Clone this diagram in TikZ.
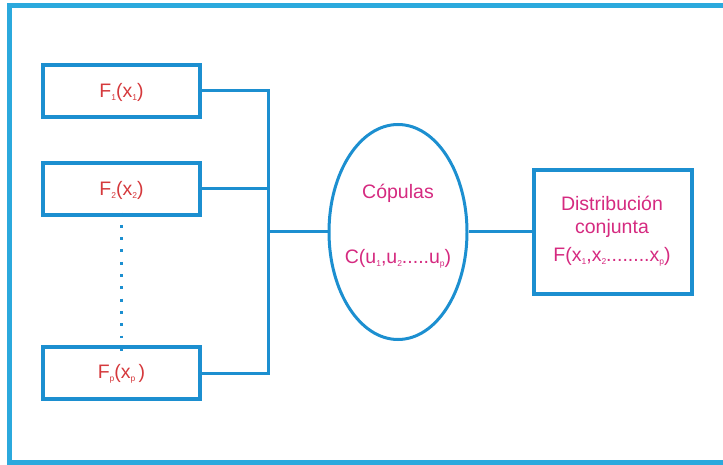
\documentclass[tikz,border=0pt]{standalone}
\usepackage{fontspec}
\setmainfont{Liberation Sans}
\usetikzlibrary{shapes.geometric}
\definecolor{framecol}{HTML}{2BA9DD}
\definecolor{linecol}{HTML}{1C8FD0}
\definecolor{fred}{HTML}{D5393C}
\definecolor{cmag}{HTML}{D52A80}
\newcommand{\sbs}[1]{\raisebox{-0.35ex}{\fontsize{8.5}{8.5}\selectfont #1}}
\tikzset{
  fbox/.style={draw=linecol, line width=3.2pt, minimum width=157pt, minimum height=52pt, inner sep=0pt},
  wire/.style={draw=linecol, line width=3pt},
  ftext/.style={text=fred, font=\fontsize{19.5}{21}\selectfont, inner sep=0pt},
  ctext/.style={text=cmag, font=\fontsize{19.5}{22}\selectfont, inner sep=0pt},
}
\begin{document}
\begin{tikzpicture}[x=1pt,y=-1pt]
  \useasboundingbox (0,0) rectangle (723,465);
  \clip (0,0) rectangle (723,465);
  % outer frame, open on the right
  \draw[framecol, line width=5pt] (740,6) -- (9,6) -- (9,462) -- (740,462);

  % marginal distributions
  \node[fbox] (f1) at (121.5,91) {};
  \node[ftext] (f1t) at (121.5,92) {F\sbs{1}(x\sbs{1})};
  \node[fbox] (f2) at (121.5,189) {};
  \node[ftext] (f2t) at (121.5,190) {F\sbs{2}(x\sbs{2})};
  \node[fbox] (fp) at (121.5,373) {};
  \node[ftext] (fpt) at (121.5,374) {F\sbs{p}(x\sbs{p}\,)};

  % copula
  \node[draw=linecol, line width=3pt, ellipse, minimum width=138pt, minimum height=215pt, inner sep=0pt] (cop) at (398,232) {};
  \node[ctext] (copt) at (398,193) {Cópulas};
  \node[ctext] (copf) at (398,259) {C(u\sbs{1},u\sbs{2}.....u\sbs{p})};

  % joint distribution
  \node[draw=linecol, line width=3.2pt, minimum width=158pt, minimum height=124pt, inner sep=0pt] (dist) at (613,232) {};
  \node[ctext] (dist1) at (612,203) {Distribución};
  \node[ctext] (dist2) at (612,228) {conjunta};
  \node[ctext] (dist3) at (612,257) {F(x\sbs{1},x\sbs{2}........x\sbs{p})};

  % connectors
  \coordinate (bus) at (268,232);
  \draw[wire] (f1.east) -| (bus) |- (fp.east);
  \draw[wire] (f2.east) -- (f2.east -| bus);
  \draw[wire] (bus) -- (cop.west);
  \draw[wire] (cop.east) -- (dist.west);
  \draw[linecol, line width=2.8pt, dash pattern=on 2.8pt off 9.5pt]
    ([yshift=4pt]f2.south) -- ([yshift=-6pt]fp.north);
\end{tikzpicture}
\end{document}
